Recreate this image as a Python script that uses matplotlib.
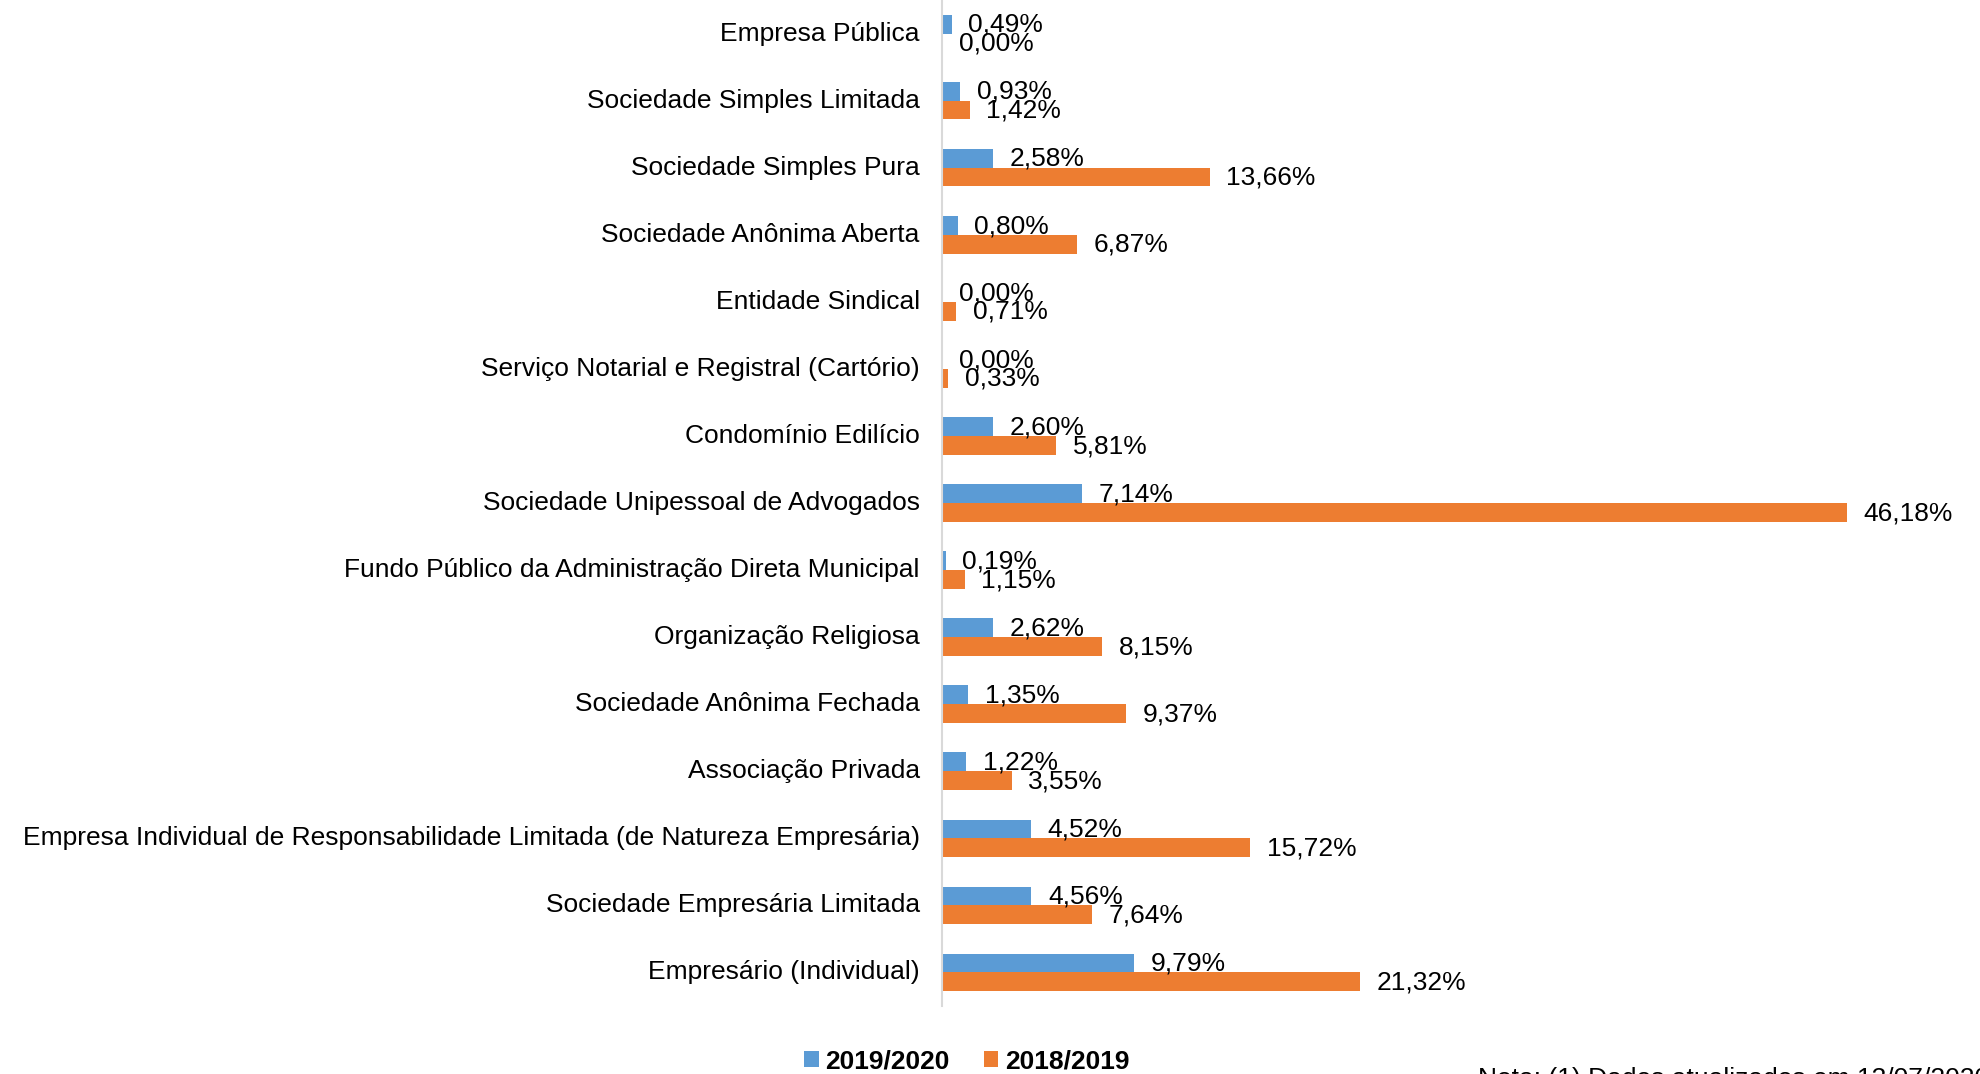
import matplotlib.pyplot as plt
import matplotlib.transforms as mtransforms
import numpy as np

plt.rcParams['font.family'] = ['Liberation Sans', 'DejaVu Sans']

categorias = ['Empresa Pública', 'Sociedade Simples Limitada', 'Sociedade Simples Pura',
              'Sociedade Anônima Aberta', 'Entidade Sindical',
              'Serviço Notarial e Registral (Cartório)', 'Condomínio Edilício',
              'Sociedade Unipessoal de Advogados',
              'Fundo Público da Administração Direta Municipal', 'Organização Religiosa',
              'Sociedade Anônima Fechada', 'Associação Privada',
              'Empresa Individual de Responsabilidade Limitada (de Natureza Empresária)',
              'Sociedade Empresária Limitada', 'Empresário (Individual)']
v_2019_2020 = [0.49, 0.93, 2.58, 0.80, 0.00, 0.00, 2.60, 7.14, 0.19, 2.62, 1.35, 1.22, 4.52, 4.56, 9.79]
v_2018_2019 = [0.00, 1.42, 13.66, 6.87, 0.71, 0.33, 5.81, 46.18, 1.15, 8.15, 9.37, 3.55, 15.72, 7.64, 21.32]

azul = '#5B9BD5'
laranja = '#ED7D31'

fig = plt.figure(figsize=(19.81, 10.74), dpi=100)
ax = fig.add_axes([0.4755, 0.0633, 0.5145, 0.9367])

y = np.arange(len(categorias))
h = 0.28
b1 = ax.barh(y - h / 2, v_2019_2020, height=h, color=azul, label='2019/2020')
b2 = ax.barh(y + h / 2, v_2018_2019, height=h, color=laranja, label='2018/2019')

def fmt(v):
    return f'{v:.2f}'.replace('.', ',') + '%'

for bars, vals in ((b1, v_2019_2020), (b2, v_2018_2019)):
    for rect, v in zip(bars, vals):
        ax.annotate(fmt(v), (rect.get_width(), rect.get_y() + rect.get_height() / 2),
                    xytext=(12, -0.5), textcoords='offset points',
                    ha='left', va='center', fontsize=19)

ax.set_xlim(0, 52)
ax.set_ylim(len(categorias) - 0.5, -0.5)
ax.set_yticks(y)
ax.set_yticklabels(categorias, fontsize=19)
ax.tick_params(axis='y', length=0, pad=16)
ax.set_xticks([])
# sobe um pouco os rótulos das categorias
desloc = mtransforms.ScaledTranslation(0, 2.5 / 100, fig.dpi_scale_trans)
for lbl in ax.get_yticklabels():
    lbl.set_transform(lbl.get_transform() + desloc)
for s in ['top', 'right', 'bottom']:
    ax.spines[s].set_visible(False)
ax.spines['left'].set_color('#d9d9d9')
ax.spines['left'].set_linewidth(1.5)

leg = fig.legend(handles=[b1, b2], loc='center', bbox_to_anchor=(0.488, 0.012), ncol=2,
                 frameon=False, prop={'weight': 'bold', 'size': 19},
                 handlelength=0.55, handleheight=0.55, handletextpad=0.25, columnspacing=1.3)

# nota de rodapé, cortada na borda inferior como no original
fig.text(0.746, 0.0065, 'Nota: (1) Dados atualizados em 13/07/2020', fontsize=19,
         ha='left', va='top')

fig.savefig('out.png', dpi=100)
